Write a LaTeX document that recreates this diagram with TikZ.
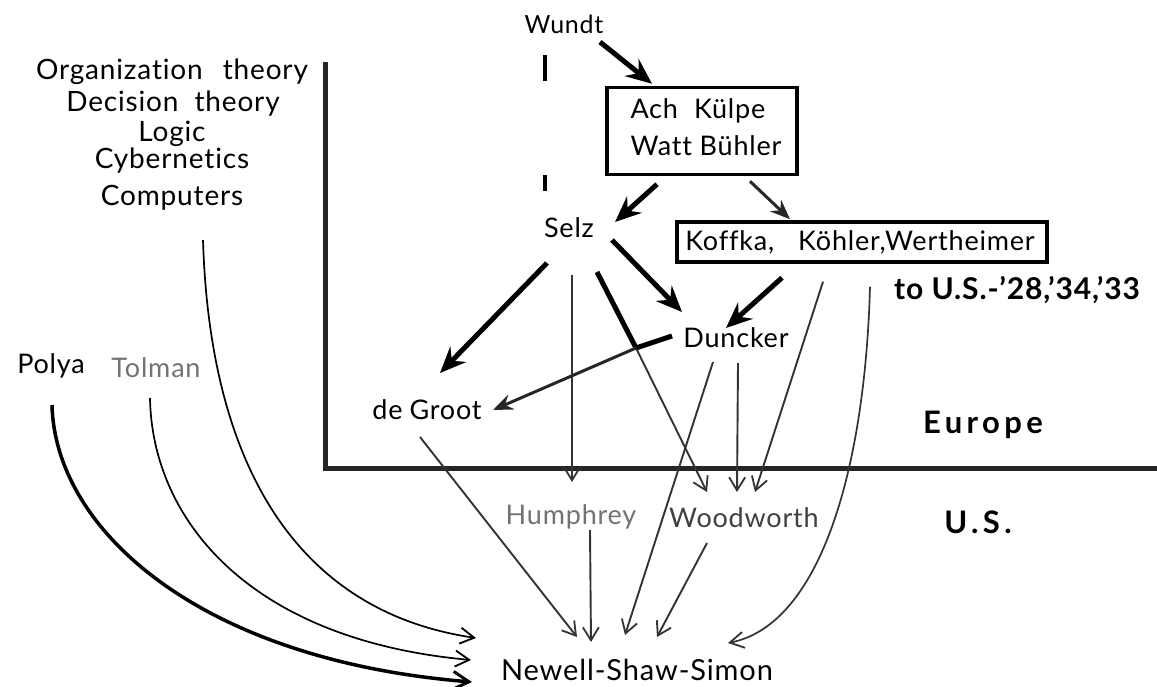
\documentclass[tikz,border=0pt]{standalone}
\usepackage{fontspec}
\setmainfont{Lato}[LetterSpace=3,Ligatures={NoCommon}]
\newfontfamily\widefont{Lato}[LetterSpace=14,Ligatures={NoCommon}]
\usetikzlibrary{arrows.meta,calc}
\begin{document}
\begin{tikzpicture}[x=1pt,y=-1pt,
  lbl/.style={font=\fontsize{27}{31}\selectfont, inner sep=1pt, anchor=center},
  big/.style={font=\widefont\fontsize{31}{34}\selectfont\bfseries, inner sep=1pt},
  boxed/.style={draw, line width=3.5pt, inner sep=0pt},
  thickarr/.style={line width=5pt, -{Stealth[length=26pt,width=22pt,inset=9pt]}},
  medarr/.style={line width=3pt, draw=black!85, -{Stealth[length=20pt,width=16pt,inset=7pt]}},
  thinarr/.style={line width=1.9pt, draw=black!80, -{Straight Barb[length=13pt,width=16pt,line width=1.8pt]}},
  curvearr/.style={line width=1.7pt, -{Straight Barb[length=14pt,width=16pt,line width=1.8pt]}}]
\useasboundingbox (0,0) rectangle (1157,686);
\fill[white] (0,0) rectangle (1157,686);

% axes
\coordinate (axtop) at (325,62);
\coordinate (axcorner) at (325,468);
\coordinate (axright) at (1157,468);
\draw[line width=5pt, black!85] (axtop) -- (axcorner) -- (axright);

% nodes
\node[lbl, font=\fontsize{25}{29}\selectfont] (wundt) at (564,24) {Wundt};
\node[boxed, minimum width=190pt, minimum height=87pt] (ach) at (702,131) {};
\node[lbl] (achtxt) at (706,131) {\begin{tabular}{@{}l@{}}Ach\hspace{16pt}Külpe\\[6pt]Watt Bühler\end{tabular}};
\node[lbl] (selz) at (569,228) {Selz};
\node[boxed, minimum width=370pt, minimum height=40pt] (koffka) at (862,242) {};
\node[lbl] (koffkatxt) at (860,242) {Koffka,\hspace{24pt}Köhler,Wertheimer};
\node[lbl, font=\fontsize{30}{34}\selectfont\bfseries] (tous) at (1017,290) {to U.S.-'28,'34,'33};
\node[lbl] (duncker) at (736,338) {Duncker};
\node[lbl] (degroot) at (427,410) {de\hspace{7pt}Groot};
\node[big] (europe) at (983,425) {Europe};
\node[big] (us) at (978,522) {U.S.};
\node[lbl, text=black!55] (humphrey) at (571,517) {Humphrey};
\node[lbl, text=black!75] (woodworth) at (744,518) {Woodworth};
\node[lbl, font=\fontsize{29}{33}\selectfont] (nss) at (637,670) {Newell-Shaw-Simon};

\node[lbl, font=\fontsize{28}{32}\selectfont] (org) at (172,72) {Organization\hspace{20pt}theory};
\node[lbl, font=\fontsize{28}{32}\selectfont] (dec) at (173,104) {Decision\hspace{16pt}theory};
\node[lbl, font=\fontsize{28}{32}\selectfont] (logic) at (172,134) {Logic};
\node[lbl, font=\fontsize{28}{32}\selectfont] (cyb) at (172,161) {Cybernetics};
\node[lbl, font=\fontsize{28}{32}\selectfont] (comp) at (172,198) {Computers};
\node[lbl] (polya) at (51,366) {Polya};
\node[lbl, text=black!55] (tolman) at (156,368) {Tolman};

% dashed line under Wundt
\draw[line width=3.5pt, dash pattern=on 26pt off 94pt on 16pt] ($(wundt)+(-19,31)$) -- ($(wundt)+(-19,167)$);

% connectors
\draw[thickarr] ($(wundt)+(36,18)$) -- ($(ach.north)+(-50,-2)$);
\draw[thickarr] ($(ach.south)+(-45,8)$) -- ($(selz)+(46,-6)$);
\draw[medarr] ($(ach.south)+(48,5)$) -- ($(koffka.north)+(-72,-1)$);
\draw[thickarr] ($(koffka.south)+(-80,14)$) -- ($(duncker)+(-10,-10)$);
\draw[thickarr] ($(selz)+(43,12)$) -- ($(duncker)+(-54,-26)$);
\draw[thickarr] ($(selz)+(-22,35)$) -- ($(degroot)+(13,-37)$);
\draw[thinarr] ($(selz)+(3,47)$) -- ($(humphrey)+(1,-35)$);
\coordinate (j1) at (636,348);
\draw[line width=5pt] ($(selz)+(28,44)$) -- (j1);
\draw[thinarr] (j1) -- ($(woodworth)+(-37,-26)$);
\draw[line width=5pt] ($(duncker)+(-64,-2)$) -- (j1);
\draw[medarr] (j1) -- ($(degroot)+(66,0)$);
\draw[thinarr] ($(duncker)+(-23,24)$) -- ($(nss)+(-12,-35)$);
\draw[thinarr] ($(duncker)+(2,25)$) -- ($(woodworth)+(-7,-26)$);
\draw[thinarr] ($(koffka.south)+(-39,18)$) -- ($(woodworth)+(11,-26)$);
\draw[curvearr, draw=black!80] ($(koffka.south)+(8,23)$) .. controls (865,470) and (820,625) .. ($(nss)+(91,-27)$);
\draw[thinarr] ($(degroot)+(-7,27)$) -- ($(nss)+(-60,-33)$);
\draw[thinarr] ($(humphrey)+(19,13)$) -- ($(nss)+(-46,-28)$);
\draw[thinarr] ($(woodworth)+(-37,25)$) -- ($(nss)+(20,-33)$);

\draw[curvearr] ($(comp)+(31,42)$) .. controls (210,470) and (300,612) .. ($(nss)+(-161,-32)$);
\draw[curvearr] ($(tolman)+(-6,30)$) .. controls (152,520) and (250,640) .. ($(nss)+(-166,-10)$);
\draw[line width=3.5pt, -{Straight Barb[length=16pt,width=18pt,line width=3pt]}] ($(polya)+(1,39)$) .. controls (55,530) and (200,660) .. ($(nss)+(-165,12)$);
\end{tikzpicture}
\end{document}
